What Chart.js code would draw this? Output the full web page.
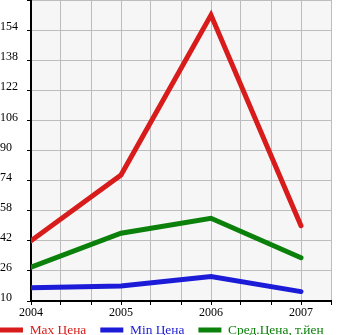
<!DOCTYPE html>
<html>
<head>
<meta charset="utf-8">
<script src="https://cdn.jsdelivr.net/npm/chart.js@4/dist/chart.umd.min.js"></script>
<style>
  html,body{margin:0;padding:0;background:#fff;}
  #wrap{width:345px;height:335px;}
</style>
</head>
<body>
<div id="wrap"><canvas id="chart" width="345" height="335"></canvas></div>
<script>
// данные
const years    = [2004, 2005, 2006, 2007];
const maxPrice = [42, 77, 162, 50];
const minPrice = [17, 18, 23, 15];
const avgPrice = [28, 46, 54, 33];
const yTicks   = [10, 26, 42, 58, 74, 90, 106, 122, 138, 154, 170];

const LEG_PAD = 14;
const LEG_FONT = 13.4;
const serif = "'Liberation Serif', 'Times New Roman', serif";

const pts = arr => years.map((x,i)=>({ x, y: arr[i] }));

const plotBg = {
  id: "plotBg",
  beforeDraw(chart){
    const { ctx, chartArea:a } = chart;
    ctx.save();
    ctx.fillStyle = "#f6f6f6";
    ctx.fillRect(a.left, a.top, a.right - a.left, a.bottom - a.top);
    ctx.restore();
  }
};

// левый отступ -LEG_PAD нужен легенде; ось Y возвращаем к краю холста
const fixBoxes = {
  id: "fixBoxes",
  afterLayout(chart){
    chart.scales.y.left = 0;
    if(chart.legend){
      chart.legend.top = 330 - LEG_PAD - LEG_FONT/2;
      chart.legend.bottom = 335;
    }
  }
};

const line = (label, arr, color) => ({
  label, data: pts(arr), borderColor: color, backgroundColor: color,
  borderWidth: 5, pointRadius: 0, tension: 0, borderCapStyle: "round"
});

new Chart(document.getElementById("chart"), {
  type: "line",
  data: { datasets: [
    line("Max Цена", maxPrice, "#d81b1b"),
    line("Min Цена", minPrice, "#1b1bd8"),
    line("Сред.Цена, т.йен", avgPrice, "#0b800b")
  ]},
  options: {
    responsive: false,
    animation: false,
    layout: { padding: { left: -LEG_PAD, top: 0, right: 0, bottom: 0 } },
    plugins: {
      tooltip: { enabled: false },
      legend: {
        position: "bottom",
        align: "start",
        maxHeight: 17,
        labels: {
          usePointStyle: true,
          pointStyle: "line",
          pointStyleWidth: 23,
          padding: LEG_PAD,
          font: { family: serif, size: LEG_FONT },
          generateLabels(chart){
            const items = Chart.defaults.plugins.legend.labels.generateLabels(chart);
            return items.map(it=>({ ...it, fontColor: it.strokeStyle, lineCap: "butt" }));
          }
        }
      }
    },
    scales: {
      x: {
        type: "linear",
        min: years[0],
        max: years[years.length-1] + 1/3,
        afterBuildTicks(scale){
          const t = [];
          for(let i=0;i<=10;i++) t.push({ value: years[0] + i/3 });
          scale.ticks = t;
        },
        afterFit(scale){ scale.height = 17; scale.paddingLeft = 0; scale.paddingRight = 14; },
        grid: { color: "#bdbdbd", tickColor: "#000", tickLength: 4, lineWidth: 1 },
        border: { color: "#000", width: 2 },
        ticks: {
          autoSkip: false, maxRotation: 0, padding: 1, color: "#000",
          font: { family: serif, size: 12 },
          callback: v => Math.abs(v - Math.round(v)) < 1e-6 ? String(Math.round(v)) : ""
        }
      },
      y: {
        min: yTicks[0],
        max: yTicks[yTicks.length-1],
        afterBuildTicks(scale){ scale.ticks = yTicks.map(v=>({ value: v })); },
        afterFit(scale){ scale.width = 31 + LEG_PAD; scale.paddingTop = 0; scale.paddingBottom = 0; },
        grid: { color: "#bdbdbd", tickColor: "#000", tickLength: 4, lineWidth: 1 },
        border: { color: "#000", width: 2 },
        ticks: {
          crossAlign: "far", labelOffset: -3, color: "#000",
          font: { family: serif, size: 12 },
          callback: v => v === yTicks[yTicks.length-1] ? "" : String(v)
        }
      }
    }
  },
  plugins: [plotBg, fixBoxes]
});
</script>
</body>
</html>
